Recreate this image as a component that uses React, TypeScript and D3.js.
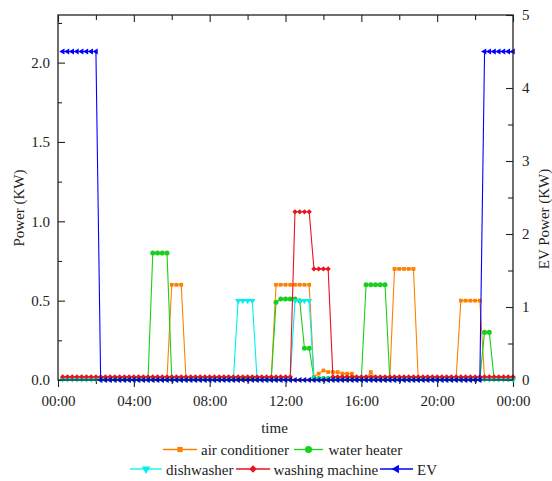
import React, { useEffect, useRef } from 'react';
import * as d3 from 'd3';

// 15-minute slots, first sample at 00:15, last at 24:00
const slotHours = 0.25;
const slotCount = 96;

// each row below = 2 hours (8 slots)
const airConditioner = [
  0.01, 0.01, 0.01, 0.01, 0.01, 0.01, 0.01, 0.01,
  0.01, 0.01, 0.01, 0.01, 0.01, 0.01, 0.01, 0.01,
  0.01, 0.01, 0.01, 0.01, 0.01, 0.01, 0.01, 0.6,
  0.6, 0.6, 0.01, 0.01, 0.01, 0.01, 0.01, 0.01,
  0.01, 0.01, 0.01, 0.01, 0.01, 0.01, 0.01, 0.01,
  0.01, 0.01, 0.01, 0.01, 0.01, 0.6, 0.6, 0.6,
  0.6, 0.6, 0.6, 0.6, 0.6, 0.02, 0.04, 0.06,
  0.05, 0.05, 0.05, 0.04, 0.04, 0.04, 0.01, 0.01,
  0.01, 0.05, 0.01, 0.01, 0.01, 0.01, 0.7, 0.7,
  0.7, 0.7, 0.7, 0.01, 0.01, 0.01, 0.01, 0.01,
  0.01, 0.01, 0.01, 0.01, 0.5, 0.5, 0.5, 0.5,
  0.5, 0.01, 0.01, 0.01, 0.01, 0.01, 0.01, 0.01,
];

const waterHeater = [
  0.01, 0.01, 0.01, 0.01, 0.01, 0.01, 0.01, 0.01,
  0.01, 0.01, 0.01, 0.01, 0.01, 0.01, 0.01, 0.01,
  0.01, 0.01, 0.01, 0.8, 0.8, 0.8, 0.8, 0.01,
  0.01, 0.01, 0.01, 0.01, 0.01, 0.01, 0.01, 0.01,
  0.01, 0.01, 0.01, 0.01, 0.01, 0.01, 0.01, 0.01,
  0.01, 0.01, 0.01, 0.01, 0.01, 0.49, 0.51, 0.51,
  0.51, 0.51, 0.5, 0.2, 0.2, 0.01, 0.01, 0.01,
  0.01, 0.01, 0.01, 0.01, 0.01, 0.01, 0.01, 0.01,
  0.6, 0.6, 0.6, 0.6, 0.6, 0.01, 0.01, 0.01,
  0.01, 0.01, 0.01, 0.01, 0.01, 0.01, 0.01, 0.01,
  0.01, 0.01, 0.01, 0.01, 0.01, 0.01, 0.01, 0.01,
  0.01, 0.3, 0.3, 0.01, 0.01, 0.01, 0.01, 0.01,
];

const dishwasher = [
  0.005, 0.005, 0.005, 0.005, 0.005, 0.005, 0.005, 0.005,
  0.005, 0.005, 0.005, 0.005, 0.005, 0.005, 0.005, 0.005,
  0.005, 0.005, 0.005, 0.005, 0.005, 0.005, 0.005, 0.005,
  0.005, 0.005, 0.005, 0.005, 0.005, 0.005, 0.005, 0.005,
  0.005, 0.005, 0.005, 0.005, 0.005, 0.5, 0.5, 0.5,
  0.5, 0.005, 0.005, 0.005, 0.005, 0.005, 0.005, 0.005,
  0.005, 0.5, 0.5, 0.5, 0.5, 0.005, 0.005, 0.005,
  0.005, 0.005, 0.005, 0.005, 0.005, 0.005, 0.005, 0.005,
  0.005, 0.005, 0.005, 0.005, 0.005, 0.005, 0.005, 0.005,
  0.005, 0.005, 0.005, 0.005, 0.005, 0.005, 0.005, 0.005,
  0.005, 0.005, 0.005, 0.005, 0.005, 0.005, 0.005, 0.005,
  0.005, 0.005, 0.005, 0.005, 0.005, 0.005, 0.005, 0.005,
];

const washingMachine = [
  0.02, 0.02, 0.02, 0.02, 0.02, 0.02, 0.02, 0.02,
  0.02, 0.02, 0.02, 0.02, 0.02, 0.02, 0.02, 0.02,
  0.02, 0.02, 0.02, 0.02, 0.02, 0.02, 0.02, 0.02,
  0.02, 0.02, 0.02, 0.02, 0.02, 0.02, 0.02, 0.02,
  0.02, 0.02, 0.02, 0.02, 0.02, 0.02, 0.02, 0.02,
  0.02, 0.02, 0.02, 0.02, 0.02, 0.02, 0.02, 0.02,
  0.02, 1.06, 1.06, 1.06, 1.06, 0.7, 0.7, 0.7,
  0.7, 0.02, 0.02, 0.02, 0.02, 0.02, 0.02, 0.02,
  0.02, 0.02, 0.02, 0.02, 0.02, 0.02, 0.02, 0.02,
  0.02, 0.02, 0.02, 0.02, 0.02, 0.02, 0.02, 0.02,
  0.02, 0.02, 0.02, 0.02, 0.02, 0.02, 0.02, 0.02,
  0.02, 0.02, 0.02, 0.02, 0.02, 0.02, 0.02, 0.02,
];

// EV is read against the right axis
const ev = [
  4.5, 4.5, 4.5, 4.5, 4.5, 4.5, 4.5, 4.5,
  0, 0, 0, 0, 0, 0, 0, 0,
  0, 0, 0, 0, 0, 0, 0, 0,
  0, 0, 0, 0, 0, 0, 0, 0,
  0, 0, 0, 0, 0, 0, 0, 0,
  0, 0, 0, 0, 0, 0, 0, 0,
  0, 0, 0, 0, 0, 0, 0, 0,
  0, 0, 0, 0, 0, 0, 0, 0,
  0, 0, 0, 0, 0, 0, 0, 0,
  0, 0, 0, 0, 0, 0, 0, 0,
  0, 0, 0, 0, 0, 0, 0, 0,
  0, 4.5, 4.5, 4.5, 4.5, 4.5, 4.5, 4.5,
];

const timeTicks = [0, 4, 8, 12, 16, 20, 24];
const timeLabels = ['00:00', '04:00', '08:00', '12:00', '16:00', '20:00', '00:00'];
const timeMinor = [2, 6, 10, 14, 18, 22];
const leftTicks = [0, 0.5, 1.0, 1.5, 2.0];
const leftMinor = [0.25, 0.75, 1.25, 1.75, 2.25];
const rightTicks = [0, 1, 2, 3, 4, 5];
const rightMinor = [0.5, 1.5, 2.5, 3.5, 4.5];

const FONT = 'Liberation Serif, DejaVu Serif, serif';

const App = () => {
  const svgRef = useRef(null);

  useEffect(() => {
    const svg = d3.select(svgRef.current);
    svg.selectAll('*').remove();

    const left = 58, right = 513, top = 15, bottom = 380;
    const times = d3.range(1, slotCount + 1).map(i => i * slotHours);

    const x = d3.scaleLinear().domain([0, 24]).range([left, right]);
    const yLeft = d3.scaleLinear().domain([0, 2.3]).range([bottom, top]);
    const yRight = d3.scaleLinear().domain([0, 5]).range([bottom, top]);

    const rotSym = (type, size, angle) => (g) =>
      g.append('path')
        .attr('d', d3.symbol().type(type).size(size)())
        .attr('transform', `rotate(${angle})`);

    const series = [
      { name: 'air conditioner', values: airConditioner, color: '#ff8000', y: yLeft, marker: rotSym(d3.symbolSquare, 14, 0) },
      { name: 'water heater', values: waterHeater, color: '#18d018', y: yLeft, marker: rotSym(d3.symbolCircle, 20, 0) },
      { name: 'dishwasher', values: dishwasher, color: '#00f0f0', y: yLeft, marker: rotSym(d3.symbolTriangle, 16, 180) },
      { name: 'washing machine', values: washingMachine, color: '#e8141e', y: yLeft, marker: rotSym(d3.symbolSquare, 14, 45) },
      { name: 'EV', values: ev, color: '#0000ff', y: yRight, marker: rotSym(d3.symbolTriangle, 16, -90) },
    ];

    const styleAxis = (g) => {
      g.select('.domain').remove();
      g.selectAll('line').attr('stroke', '#222').attr('stroke-width', 1.1);
      g.selectAll('text').attr('fill', '#222').style('font-family', FONT).style('font-size', '15px');
    };

    // axes
    svg.append('g').attr('transform', `translate(0,${bottom})`)
      .call(d3.axisBottom(x).tickValues(timeTicks).tickSizeInner(7).tickSizeOuter(0).tickPadding(8)
        .tickFormat((d, i) => timeLabels[i]))
      .call(styleAxis);
    svg.append('g').attr('transform', `translate(0,${bottom})`)
      .call(d3.axisBottom(x).tickValues(timeMinor).tickSizeInner(4).tickSizeOuter(0).tickFormat(() => ''))
      .call(styleAxis);
    svg.append('g').attr('transform', `translate(0,${top})`)
      .call(d3.axisTop(x).tickValues(timeTicks).tickSizeInner(-7).tickSizeOuter(0).tickFormat(() => ''))
      .call(styleAxis);
    svg.append('g').attr('transform', `translate(0,${top})`)
      .call(d3.axisTop(x).tickValues(timeMinor).tickSizeInner(-5).tickSizeOuter(0).tickFormat(() => ''))
      .call(styleAxis);
    svg.append('g').attr('transform', `translate(${left},0)`)
      .call(d3.axisLeft(yLeft).tickValues(leftTicks).tickSizeInner(-7).tickSizeOuter(0).tickPadding(8)
        .tickFormat(d3.format('.1f')))
      .call(styleAxis);
    svg.append('g').attr('transform', `translate(${left},0)`)
      .call(d3.axisLeft(yLeft).tickValues(leftMinor).tickSizeInner(-4).tickSizeOuter(0).tickFormat(() => ''))
      .call(styleAxis);
    svg.append('g').attr('transform', `translate(${right},0)`)
      .call(d3.axisRight(yRight).tickValues(rightTicks).tickSizeInner(-7).tickSizeOuter(0).tickPadding(9)
        .tickFormat(d3.format('d')))
      .call(styleAxis);
    svg.append('g').attr('transform', `translate(${right},0)`)
      .call(d3.axisRight(yRight).tickValues(rightMinor).tickSizeInner(-5).tickSizeOuter(0).tickFormat(() => ''))
      .call(styleAxis);

    // series
    series.forEach(s => {
      const line = d3.line().x((d, i) => x(times[i])).y(d => s.y(d));
      svg.append('path')
        .datum(s.values)
        .attr('d', line)
        .attr('fill', 'none')
        .attr('stroke', s.color)
        .attr('stroke-width', 1.1);
      const pts = svg.append('g').attr('fill', s.color);
      s.values.forEach((v, i) => {
        const m = pts.append('g').attr('transform', `translate(${x(times[i])},${s.y(v)})`);
        s.marker(m);
      });
    });

    // frame
    svg.append('rect')
      .attr('x', left).attr('y', top)
      .attr('width', right - left).attr('height', bottom - top)
      .attr('fill', 'none').attr('stroke', '#222').attr('stroke-width', 1.3);

    const addText = (txt, transform, anchor = 'middle') =>
      svg.append('text').attr('transform', transform)
        .attr('text-anchor', anchor).attr('fill', '#222')
        .style('font-family', FONT).style('font-size', '15px')
        .text(txt);

    // axis titles
    addText('time', 'translate(274.5,433)');
    addText('Power (KW)', 'translate(24,208) rotate(-90)');
    addText('EV Power (KW)', 'translate(549,219) rotate(-90)');

    // legend
    const legendPos = [
      { x0: 163, x1: 197, tx: 201, y: 449.5 },
      { x0: 294, x1: 323, tx: 328.5, y: 449.5 },
      { x0: 130, x1: 162, tx: 166, y: 469 },
      { x0: 236, x1: 270, tx: 273.5, y: 469 },
      { x0: 380, x1: 413, tx: 417, y: 469 },
    ];
    series.forEach((s, i) => {
      const p = legendPos[i];
      const g = svg.append('g');
      g.append('line').attr('x1', p.x0).attr('x2', p.x1).attr('y1', p.y).attr('y2', p.y)
        .attr('stroke', s.color).attr('stroke-width', 1.3);
      const m = g.append('g').attr('fill', s.color)
        .attr('transform', `translate(${(p.x0 + p.x1) / 2},${p.y}) scale(1.4)`);
      s.marker(m);
      addText(s.name, `translate(${p.tx},${p.y + 5.5})`, 'start');
    });
  }, []);

  return (
    <svg ref={svgRef} width={552} height={481}
      style={{ position: 'absolute', left: 0, top: 0, background: '#fff' }} />
  );
};

export default App;
